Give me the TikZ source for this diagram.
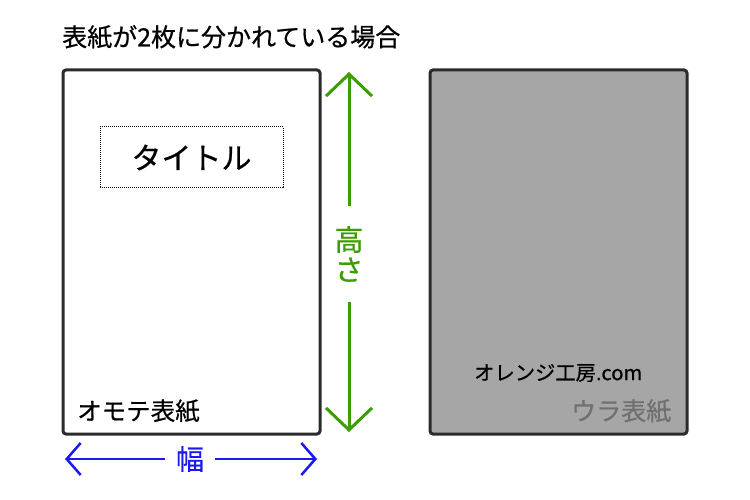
\documentclass[tikz,border=0pt]{standalone}
\usepackage{fontspec}
\setmainfont{Noto Sans CJK JP}[FakeBold=0.6]
\usetikzlibrary{arrows.meta}
\definecolor{frame}{HTML}{2B2B2B}
\definecolor{backfill}{HTML}{A6A6A6}
\definecolor{hgreen}{HTML}{3A9E00}
\definecolor{wblue}{HTML}{1A1AF0}
\definecolor{uragray}{HTML}{707070}
\tikzset{
  cover/.style={draw=frame, line width=3pt, rounded corners=3pt},
  garrow/.style={draw=hgreen, line width=3pt, -{Straight Barb[length=22pt,width=46pt,line width=3pt]}},
  barrow/.style={draw=wblue, line width=2.5pt, -{Straight Barb[length=14pt,width=32pt,line width=2.5pt]}},
  lbl/.style={inner sep=0pt, anchor=west},
}
\begin{document}
\begin{tikzpicture}[x=1pt,y=-1pt]
\useasboundingbox (0,0) rectangle (750,500);
\node[lbl, font=\fontsize{25}{29}\selectfont] (title) at (62,37) {表紙が2枚に分かれている場合};
\draw[cover, fill=white] (63,70) rectangle (320,434);
\draw[cover, fill=backfill] (430,70) rectangle (687,434);
\node[draw=black, densely dotted, line width=1pt, minimum width=183pt, minimum height=61pt, font=\fontsize{30}{32}\selectfont] (ttl) at (191.5,157.5) {タイトル};
\node[lbl, font=\fontsize{24.5}{28}\selectfont] (omote) at (77,411) {オモテ表紙};
\node[lbl, font=\fontsize{20.3}{24}\selectfont] (site) at (474,373) {オレンジ工房.com};
\node[lbl, text=uragray, font=\fontsize{25}{28}\selectfont] (ura) at (571,411) {ウラ表紙};
\coordinate (htop) at (349,72);
\coordinate (hbot) at (349,432);
\node[text=hgreen, font=\fontsize{29}{30}\selectfont, align=center, minimum height=95pt, inner sep=0pt] (hlab) at (349,254) {高\\さ};
\draw[garrow] (hlab.north) -- (htop);
\draw[garrow] (hlab.south) -- (hbot);
\coordinate (wl) at (65,459);
\coordinate (wr) at (317,459);
\node[text=wblue, font=\fontsize{28}{29}\selectfont, minimum width=50pt, inner sep=0pt] (wlab) at (190,459) {幅};
\draw[barrow] (wlab.west) -- (wl);
\draw[barrow] (wlab.east) -- (wr);
\end{tikzpicture}
\end{document}
